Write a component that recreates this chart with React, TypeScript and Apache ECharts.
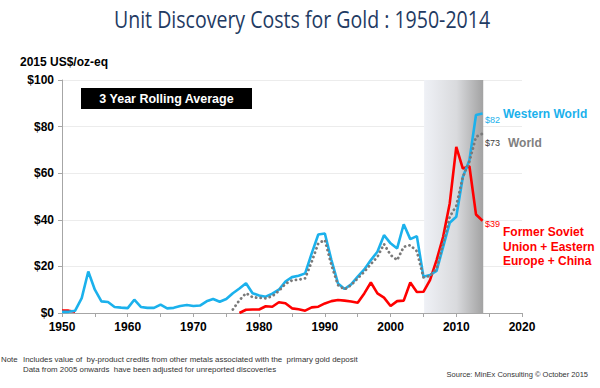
import React, { useEffect, useRef } from "react";
import * as echarts from "echarts";

const years: number[] = [];
for (let y = 1950; y <= 2014; y++) years.push(y);

const westernWorld: (number | null)[] = [
  0.5, 0.5, 1, 6.4, 17.8, 10, 5, 4.7, 2.6, 2.3,
  2.1, 5.7, 2.6, 2.2, 2.2, 3.6, 2, 2.2, 3, 3.4,
  3, 3.2, 5, 6, 4.8, 6, 8.5, 10.5, 12.8, 8.5,
  7.5, 7, 8.3, 10, 13.5, 15.4, 16, 17, 25.6, 33.7,
  34.1, 22.7, 12.7, 10.3, 12.3, 15.6, 18.7, 22.7, 26.3, 33.4,
  29.9, 27.7, 38.1, 31.7, 33, 15.6, 16.3, 18.1, 28.4, 38.7,
  41.3, 58.4, 65.6, 85, 85.6,
];

const fsuChina: (number | null)[] = [
  1, 1, 0.5, null, null, null, null, null, null, null,
  null, null, null, null, null, null, null, null, null, null,
  null, null, null, null, null, null, null, 0, 1.4, 1.5,
  1.5, 2.9, 2.7, 4.6, 4.2, 2, 1.6, 1, 2.4, 2.7,
  4.1, 5.1, 5.6, 5.3, 4.9, 4.4, 8.4, 13.1, 8.4, 6.6,
  3, 5.1, 5.3, 13.1, 9, 9.1, 14.1, 22.7, 32.7, 47,
  71.3, 62, 63, 42.3, 39.6,
];

const world: (number | null)[] = [
  null, null, null, null, null, null, null, null, null, null,
  null, null, null, null, null, null, null, null, null, null,
  null, null, null, null, null, null, 1.5, 5.5, 8.5, 6.8,
  6.5, 6.3, 7.2, 9.5, 12.5, 14, 14.3, 14.9, 22, 29.9,
  31.3, 20.6, 12, 10.1, 12, 14.9, 17.7, 21, 24.1, 29.6,
  24.9, 22.7, 28.4, 29.1, 26.5, 15.3, 15.9, 19, 29.9, 41.3,
  46, 58.4, 65, 75.6, 77,
];

const estimateRange: [number, number] = [2005.1, 2014.1];

const pairs = (vals: (number | null)[]) =>
  years.map((y, i) => [y, vals[i]] as [number, number | null]);

const AR = "'Liberation Sans', Arial, sans-serif";

export default function App() {
  const ref = useRef<HTMLDivElement>(null);
  useEffect(() => {
    if (!ref.current) return;
    const chart = echarts.init(ref.current, undefined, { renderer: "svg" });
    chart.setOption({
      animation: false,
      backgroundColor: "#ffffff",
      grid: { left: 62, right: 78, top: 80, bottom: 75 },
      xAxis: {
        type: "value",
        min: 1950,
        max: 2020,
        interval: 5,
        axisLine: { show: true, lineStyle: { color: "#a6a6a6", width: 1 } },
        axisTick: { show: true, length: 4, lineStyle: { color: "#a6a6a6" } },
        splitLine: { show: false },
        axisLabel: {
          color: "#000",
          fontFamily: AR,
          fontWeight: "bold",
          fontSize: 12,
          margin: 8,
          formatter: (v: number) => (v % 10 === 0 ? String(v) : ""),
        },
      },
      yAxis: {
        type: "value",
        min: 0,
        max: 100,
        interval: 20,
        axisLine: { show: true, lineStyle: { color: "#a6a6a6", width: 1 } },
        axisTick: { show: true, length: 4, lineStyle: { color: "#a6a6a6" } },
        splitLine: { show: true, lineStyle: { color: "#ececec", width: 1 } },
        axisLabel: {
          color: "#000",
          fontFamily: AR,
          fontWeight: "bold",
          fontSize: 12,
          margin: 8,
          formatter: (v: number) => "$" + v,
        },
      },
      series: [
        {
          type: "line",
          name: "Estimate",
          data: [],
          silent: true,
          markArea: {
            silent: true,
            itemStyle: {
              color: new echarts.graphic.LinearGradient(0, 0, 1, 0, [
                { offset: 0, color: "#eff1f6" },
                { offset: 0.55, color: "#d9dadd" },
                { offset: 1, color: "#a2a2a2" },
              ]),
            },
            data: [[{ xAxis: estimateRange[0], yAxis: 0 }, { xAxis: estimateRange[1], yAxis: 100 }]],
          },
        },
        {
          type: "line",
          name: "Western World",
          data: pairs(westernWorld),
          showSymbol: false,
          connectNulls: false,
          lineStyle: { color: "#1bb1ec", width: 2.6 },
          z: 3,
        },
        {
          type: "line",
          name: "World",
          data: pairs(world),
          showSymbol: false,
          lineStyle: { color: "#7a7a7a", width: 2.8, type: [0.1, 4.5], cap: "round" },
          z: 4,
        },
        {
          type: "line",
          name: "Former Soviet Union + Eastern Europe + China",
          data: pairs(fsuChina),
          showSymbol: false,
          lineStyle: { color: "#ff0000", width: 2.6 },
          z: 2,
        },
      ],
      graphic: [
        {
          type: "text",
          x: 302,
          y: 19,
          scaleX: 0.85,
          style: {
            text: "Unit Discovery Costs for Gold : 1950-2014",
            fill: "#1f3b63",
            font: "23px 'Open Sans', sans-serif",
            align: "center",
            verticalAlign: "middle",
          },
        },
        {
          type: "text",
          x: 20,
          y: 56,
          style: { text: "2015 US$/oz-eq", fill: "#000", font: `bold 12px ${AR}` },
        },
        {
          type: "rect",
          shape: { x: 81, y: 88, width: 171, height: 21 },
          style: { fill: "#000" },
        },
        {
          type: "text",
          x: 166.5,
          y: 98.5,
          style: {
            text: "3 Year Rolling Average",
            fill: "#fff",
            font: `bold 12.5px ${AR}`,
            align: "center",
            verticalAlign: "middle",
          },
        },
        {
          type: "text",
          x: 450,
          y: 89,
          style: {
            text: "Estimate",
            fill: "#3b4660",
            font: `italic 9px ${AR}`,
            align: "center",
            verticalAlign: "middle",
          },
        },
        {
          type: "text",
          x: 485,
          y: 120,
          style: { text: "$82", fill: "#1bb1ec", font: `9px ${AR}`, verticalAlign: "middle" },
        },
        {
          type: "text",
          x: 503,
          y: 114,
          style: { text: "Western World", fill: "#1bb1ec", font: `bold 12px ${AR}`, verticalAlign: "middle" },
        },
        {
          type: "text",
          x: 485,
          y: 143,
          style: { text: "$73", fill: "#404040", font: `9px ${AR}`, verticalAlign: "middle" },
        },
        {
          type: "text",
          x: 508,
          y: 143,
          style: { text: "World", fill: "#808080", font: `bold 12px ${AR}`, verticalAlign: "middle" },
        },
        {
          type: "text",
          x: 485,
          y: 224,
          style: { text: "$39", fill: "#ff0000", font: `9px ${AR}`, verticalAlign: "middle" },
        },
        {
          type: "text",
          x: 503,
          y: 225,
          style: {
            text: "Former Soviet\nUnion + Eastern\nEurope + China",
            fill: "#ff0000",
            font: `bold 12px ${AR}`,
            lineHeight: 14.5,
            verticalAlign: "top",
          },
        },
        {
          type: "text",
          x: 1,
          y: 359,
          style: { text: "Note", fill: "#333", font: `7.9px ${AR}`, verticalAlign: "middle" },
        },
        {
          type: "text",
          x: 23,
          y: 359,
          style: {
            text: "Includes value of  by-product credits from other metals associated with the  primary gold deposit",
            fill: "#333",
            font: `7.9px ${AR}`,
            verticalAlign: "middle",
          },
        },
        {
          type: "text",
          x: 23,
          y: 369,
          style: {
            text: "Data from 2005 onwards  have been adjusted for unreported discoveries",
            fill: "#333",
            font: `7.9px ${AR}`,
            verticalAlign: "middle",
          },
        },
        {
          type: "text",
          x: 588,
          y: 374,
          style: {
            text: "Source: MinEx Consulting © October 2015",
            fill: "#333",
            font: `7.5px ${AR}`,
            align: "right",
            verticalAlign: "middle",
          },
        },
      ],
    });
    return () => chart.dispose();
  }, []);
  return (
    <div
      ref={ref}
      style={{ position: "fixed", left: 0, top: 0, width: 600, height: 388 }}
    />
  );
}
